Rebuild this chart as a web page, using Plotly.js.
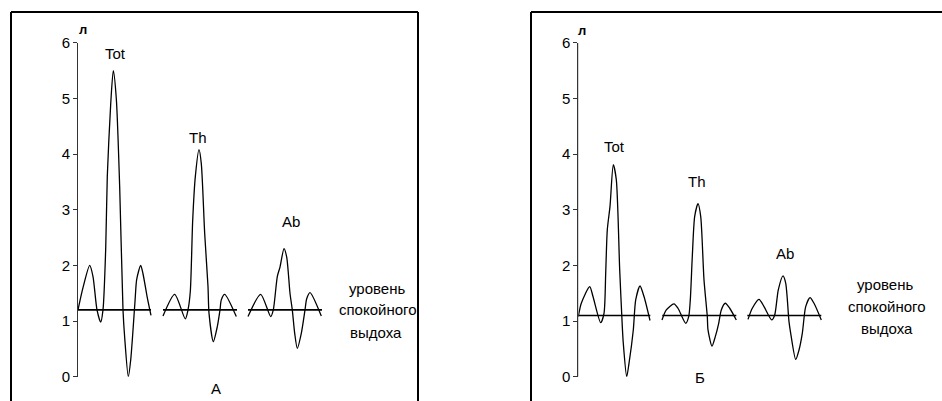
<!DOCTYPE html>
<html>
<head>
<meta charset="utf-8">
<script src="https://cdn.plot.ly/plotly-3.0.1.min.js"></script>
<style>html,body{margin:0;padding:0;background:#fff;}#chart{width:942px;height:401px;}</style>
</head>
<body>
<div id="chart"></div>
<script>
// ---------- Data (time in arbitrary units, volume in litres) ----------
const yTicks = [0, 1, 2, 3, 4, 5, 6];

// Panel A
const restLevelA = 1.2;
const segStartA = [0, 85, 170];
const segEndA = [73, 159, 244];
const totA_t = [0, 5, 11.7, 15, 19, 22.7, 25, 27.7, 29.3, 32.7, 35.3, 38.3, 41.7, 45, 46.7, 50.3, 52.7, 57, 58.7, 62.7, 65, 69, 73];
const totA_v = [1.2, 1.6, 2.0, 1.8, 1.2, 0.98, 1.2, 2.3, 3.6, 4.9, 5.5, 5.0, 3.4, 1.2, 0.7, 0.0, 0.3, 1.35, 1.75, 2.0, 1.85, 1.45, 1.1];
const thA_t = [85, 96.7, 107.3, 110, 112.3, 114.7, 117.3, 121, 123.3, 126.7, 130, 131, 135.3, 139.3, 142, 143.3, 146.7, 158.3];
const thA_v = [1.09, 1.48, 1.04, 1.2, 1.53, 2.81, 3.59, 4.08, 3.83, 2.57, 1.62, 1.14, 0.63, 0.9, 1.2, 1.38, 1.48, 1.08];
const abA_t = [170, 182.7, 192.7, 195.3, 199.3, 202, 206, 208.7, 212, 214.3, 216.7, 219.3, 223.3, 227, 228.7, 232, 243.3];
const abA_v = [1.08, 1.48, 1.08, 1.2, 1.8, 1.97, 2.3, 2.15, 1.5, 1.2, 0.78, 0.51, 0.78, 1.2, 1.4, 1.51, 1.09];

// Panel Б
const restLevelB = 1.1;
const segStartB = [0, 84, 169];
const segEndB = [72, 158, 243];
const totB_t = [0, 3, 11.4, 14.7, 22.4, 25.7, 27.4, 29, 31.7, 35, 38, 41.4, 44, 45, 48.4, 50.7, 55, 57.4, 61.7, 65.7, 71.7];
const totB_v = [1.08, 1.32, 1.62, 1.44, 0.97, 1.14, 1.86, 2.64, 3.06, 3.81, 3.54, 1.92, 0.9, 0.6, 0.0, 0.24, 0.84, 1.38, 1.63, 1.44, 1.01];
const thB_t = [83.7, 88, 95.7, 99.7, 107.4, 110.4, 112, 114, 116.4, 119.7, 122.4, 125.7, 129, 129.7, 133.7, 137, 140.4, 143, 147, 151.4, 158];
const thB_v = [1.02, 1.2, 1.31, 1.23, 0.96, 1.08, 1.38, 2.16, 2.88, 3.11, 2.88, 1.74, 1.08, 0.84, 0.55, 0.72, 0.96, 1.2, 1.32, 1.23, 1.02];
const abB_t = [169.7, 174, 180.7, 185.7, 193.4, 196.4, 200, 204.7, 207.4, 210.7, 212.4, 217.4, 220.7, 224, 227.4, 231.7, 235.7, 243];
const abB_v = [1.03, 1.23, 1.39, 1.26, 1.02, 1.11, 1.56, 1.81, 1.68, 0.99, 0.78, 0.31, 0.48, 0.78, 1.26, 1.42, 1.32, 1.02];

const curveLabels = ['Tot', 'Th', 'Ab'];
const restText = ['уровень', 'спокойного', 'выдоха'];
const panelNames = ['А', 'Б'];
const unitLabel = 'л';

// ---------- Build traces ----------
const FONT = 'Arial, "Liberation Sans", sans-serif';
const FS = 15;
function curve(t, v, xa, ya) {
  return {x: t, y: v, xaxis: xa, yaxis: ya, type: 'scatter', mode: 'lines',
          line: {color: '#000', width: 1.3, shape: 'spline', smoothing: 0.7},
          hoverinfo: 'skip', showlegend: false};
}
function baseline(starts, ends, level, xa, ya) {
  const x = [], y = [];
  starts.forEach((s, i) => { x.push(s, ends[i], null); y.push(level, level, null); });
  return {x, y, xaxis: xa, yaxis: ya, type: 'scatter', mode: 'lines',
          line: {color: '#000', width: 1.6}, hoverinfo: 'skip', showlegend: false,
          connectgaps: false};
}

const traces = [
  baseline(segStartA, segEndA, restLevelA, 'x', 'y'),
  curve(totA_t, totA_v, 'x', 'y'),
  curve(thA_t, thA_v, 'x', 'y'),
  curve(abA_t, abA_v, 'x', 'y'),
  baseline(segStartB, segEndB, restLevelB, 'x2', 'y2'),
  curve(totB_t, totB_v, 'x2', 'y2'),
  curve(thB_t, thB_v, 'x2', 'y2'),
  curve(abB_t, abB_v, 'x2', 'y2')
];

const W = 942, H = 401;
const px = v => v / W, py = v => 1 - v / H;

function yaxisDef(anchor) {
  return {range: [0, 6], tickvals: yTicks, ticktext: yTicks.map(String),
          showline: true, linecolor: '#333', linewidth: 1, ticks: 'outside',
          ticklen: 4, tickcolor: '#333', tickwidth: 1, showgrid: false, zeroline: false,
          tickfont: {family: FONT, size: FS, color: '#000'}, anchor: anchor, side: 'left',
          domain: [py(376.7), py(42.8)], fixedrange: true};
}
function xaxisDef(d0, anchor) {
  return {range: [0, 340], domain: [px(d0), px(d0 + 340)],
          showline: false, showticklabels: false, ticks: '',
          showgrid: false, zeroline: false, anchor: anchor, fixedrange: true};
}

const ann = [];
function label(text, xa, ya, x, y, size, bold) {
  ann.push({text: bold ? '<b>' + text + '</b>' : text, xref: xa, yref: ya, x, y,
            showarrow: false, xanchor: 'center', yanchor: 'middle',
            font: {family: FONT, size: size, color: '#000'}});
}
// Panel A labels
label(curveLabels[0], 'x', 'y', 37.7, 5.81, FS);
label(curveLabels[1], 'x', 'y', 120, 4.3, FS);
label(curveLabels[2], 'x', 'y', 212.7, 2.78, FS);
label(restText[0], 'x', 'y', 299, 1.59, FS);
label(restText[1], 'x', 'y', 300, 1.2, FS);
label(restText[2], 'x', 'y', 298, 0.8, FS);
label(panelNames[0], 'paper', 'paper', px(216), py(388), FS);
label(unitLabel, 'paper', 'paper', px(83), py(29), 13, true);
// Panel Б labels
label(curveLabels[0], 'x2', 'y2', 35.7, 4.14, FS);
label(curveLabels[1], 'x2', 'y2', 119, 3.51, FS);
label(curveLabels[2], 'x2', 'y2', 206.7, 2.22, FS);
label(restText[0], 'x2', 'y2', 306.7, 1.65, FS);
label(restText[1], 'x2', 'y2', 308.4, 1.26, FS);
label(restText[2], 'x2', 'y2', 308.4, 0.87, FS);
label(panelNames[1], 'paper', 'paper', px(700), py(377), FS);
label(unitLabel, 'paper', 'paper', px(581.7), py(30), 13, true);

const frame = {color: '#000', width: 2};
const shapes = [
  {type: 'line', xref: 'paper', yref: 'paper', x0: px(11), x1: px(418), y0: py(12), y1: py(12), line: frame},
  {type: 'line', xref: 'paper', yref: 'paper', x0: px(11), x1: px(11), y0: py(12), y1: py(402), line: frame},
  {type: 'line', xref: 'paper', yref: 'paper', x0: px(418), x1: px(418), y0: py(12), y1: py(402), line: frame},
  {type: 'line', xref: 'paper', yref: 'paper', x0: px(531), x1: px(942), y0: py(12), y1: py(12), line: frame},
  {type: 'line', xref: 'paper', yref: 'paper', x0: px(531), x1: px(531), y0: py(12), y1: py(402), line: frame}
];
// Backup drawing of each panel's value axis (line + ticks), tied to its own axes
const axisStroke = {color: '#333', width: 1};
[['x', 'y'], ['x2', 'y2']].forEach(([xa, ya]) => {
  shapes.push({type: 'line', xref: xa, yref: ya, xsizemode: 'pixel', xanchor: 0,
               x0: -0.5, x1: -0.5, y0: yTicks[0], y1: yTicks[yTicks.length - 1], line: axisStroke});
  yTicks.forEach(v => shapes.push({type: 'line', xref: xa, yref: ya, xsizemode: 'pixel', xanchor: 0,
               x0: -4.5, x1: -0.5, y0: v, y1: v, line: axisStroke}));
});

const layout = {
  width: W, height: H, margin: {l: 0, r: 0, t: 0, b: 0},
  paper_bgcolor: '#fff', plot_bgcolor: 'rgba(0,0,0,0)', showlegend: false,
  font: {family: FONT, size: FS, color: '#000'},
  xaxis: xaxisDef(78, 'y'), yaxis: yaxisDef('x'),
  xaxis2: xaxisDef(578.3, 'y2'), yaxis2: yaxisDef('x2'),
  annotations: ann, shapes: shapes
};

Plotly.newPlot('chart', traces, layout, {staticPlot: true, displayModeBar: false});
</script>
</body>
</html>
